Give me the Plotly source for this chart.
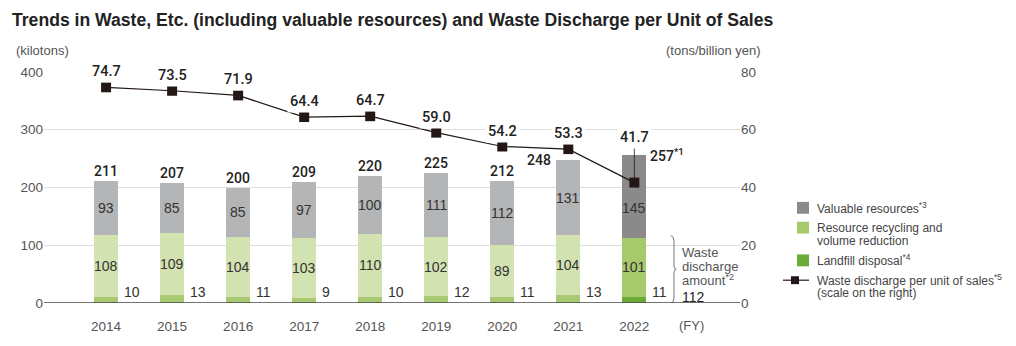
import plotly.graph_objects as go

# ---------------- data ----------------
years = ["2014", "2015", "2016", "2017", "2018", "2019", "2020", "2021", "2022"]
landfill = [10, 13, 11, 9, 10, 12, 11, 13, 11]
recycling = [108, 109, 104, 103, 110, 102, 89, 104, 101]
valuable = [93, 85, 85, 97, 100, 111, 112, 131, 145]
totals = [211, 207, 200, 209, 220, 225, 212, 248, 257]
per_sales = [74.7, 73.5, 71.9, 64.4, 64.7, 59.0, 54.2, 53.3, 41.7]
discharge_2022 = 112
left_ticks = [0, 100, 200, 300, 400]
right_ticks = [0, 20, 40, 60, 80]

# ---------------- geometry helpers ----------------
W, H = 1016, 346
L, R, T, B = 44, 740, 72, 305  # plot area in pixels


def px(x):
    return (x - L) / (R - L)


def py(y):
    return (B - y) / (B - T)


FONT = "Liberation Sans, Arial, Helvetica, sans-serif"
MED = dict(family="Roboto, Liberation Sans, Arial, sans-serif", weight=500)
xs = list(range(len(years)))
n = len(years)

c_val = ["#b4b5b6"] * (n - 1) + ["#8a8a8a"]
c_rec = ["#d3e2b1"] * (n - 1) + ["#a6c96b"]
c_land = ["#a9ca73"] * (n - 1) + ["#6cab38"]
LINE_C = "#231815"

fig = go.Figure()
bw = 0.36
fig.add_trace(go.Bar(x=xs, y=landfill, width=bw, marker=dict(color=c_land, line_width=0),
                     showlegend=False, hoverinfo="skip"))
fig.add_trace(go.Bar(x=xs, y=recycling, width=bw, marker=dict(color=c_rec, line_width=0),
                     showlegend=False, hoverinfo="skip"))
fig.add_trace(go.Bar(x=xs, y=valuable, width=bw, marker=dict(color=c_val, line_width=0),
                     showlegend=False, hoverinfo="skip"))
fig.add_trace(go.Scatter(x=xs, y=per_sales, yaxis="y2", mode="lines+markers",
                         line=dict(color=LINE_C, width=1.2),
                         marker=dict(symbol="square", size=10, color=LINE_C),
                         showlegend=False, hoverinfo="skip"))

ann = []
shapes = []

for i in xs:
    t = totals[i]
    if i == n - 2:
        ann.append(dict(x=i, y=t, xref="x", yref="y", text=f"{t}", showarrow=False,
                        xanchor="right", yanchor="middle", xshift=-15,
                        font=dict(size=14, color="#222", **MED)))
    elif i == n - 1:
        ann.append(dict(x=i, y=t, xref="x", yref="y",
                        text=f"{t}<sup>*1</sup>",
                        showarrow=False, xanchor="left", yanchor="middle", xshift=14,
                        font=dict(size=14, color="#222", **MED)))
    else:
        ann.append(dict(x=i, y=t, xref="x", yref="y", text=f"{t}", showarrow=False,
                        xanchor="center", yanchor="bottom", yshift=0,
                        font=dict(size=14, color="#222", **MED)))
    # valuable
    ann.append(dict(x=i, y=landfill[i] + recycling[i] + valuable[i] / 2, xref="x", yref="y",
                    text=str(valuable[i]), showarrow=False, yanchor="middle",
                    yshift=-12 if i == n - 1 else 0,
                    font=dict(size=14, color="#333")))
    # recycling
    ann.append(dict(x=i, y=landfill[i] + recycling[i] / 2, xref="x", yref="y",
                    text=str(recycling[i]), showarrow=False, yanchor="middle",
                    font=dict(size=14, color="#333")))
    # landfill
    ann.append(dict(x=i, y=0, xref="x", yref="y", text=str(landfill[i]), showarrow=False,
                    xanchor="left", yanchor="bottom", xshift=16, yshift=1,
                    font=dict(size=14, color="#333")))
    # line labels
    if i == n - 1:
        ann.append(dict(x=i, y=57.3, xref="x", yref="y2", text=f"{per_sales[i]:.1f}",
                        showarrow=False, yanchor="middle", bgcolor="white", borderpad=2,
                        font=dict(size=14.5, color="#222", **MED)))
    else:
        ann.append(dict(x=i, y=per_sales[i], xref="x", yref="y2", text=f"{per_sales[i]:.1f}",
                        showarrow=False, yanchor="bottom", yshift=4, bgcolor="white", borderpad=2,
                        font=dict(size=14.5, color="#222", **MED)))

# leader line for 2022 label
shapes.append(dict(type="line", xref="x", yref="y2", x0=n - 1, x1=n - 1, y0=per_sales[-1], y1=54,
                   line=dict(color=LINE_C, width=0.8), layer="above"))

# zero line
shapes.append(dict(type="line", xref="paper", yref="y", x0=0, x1=1, y0=0, y1=0,
                   line=dict(color="#444", width=1.3), layer="above"))

# bracket for waste discharge amount
bx = n - 1
shapes.append(dict(type="path", xref="x", yref="y",
                   path=(f"M {bx+0.55},117 Q {bx+0.6},115 {bx+0.6},108 L {bx+0.6},64 "
                         f"Q {bx+0.6},59 {bx+0.635},58.5 Q {bx+0.6},58 {bx+0.6},53 "
                         f"L {bx+0.6},8 Q {bx+0.6},1 {bx+0.55},0"),
                   line=dict(color="#666", width=0.9)))
for txt, yy in [("Waste", 254), ("discharge", 268.5), ("amount<sup>*2</sup>", 282)]:
    ann.append(dict(x=px(680), y=py(yy), xref="paper", yref="paper", text=txt, showarrow=False,
                    xanchor="left", yanchor="middle", font=dict(size=13, color="#555")))
ann.append(dict(x=px(680), y=py(299), xref="paper", yref="paper", text=str(discharge_2022),
                showarrow=False, xanchor="left", yanchor="middle", font=dict(size=14, color="#222")))

# axis unit labels / title
ann.append(dict(x=px(10), y=py(20), xref="paper", yref="paper",
                text="<b>Trends in Waste, Etc. (including valuable resources) and Waste Discharge per Unit of Sales</b>",
                showarrow=False, xanchor="left", yanchor="middle", font=dict(size=17.6, color="#222")))
ann.append(dict(x=px(14), y=py(50), xref="paper", yref="paper", text="(kilotons)", showarrow=False,
                xanchor="left", yanchor="middle", font=dict(size=13, color="#555")))
ann.append(dict(x=px(763), y=py(50), xref="paper", yref="paper", text="(tons/billion yen)",
                showarrow=False, xanchor="right", yanchor="middle", font=dict(size=13, color="#555")))
ann.append(dict(x=px(691), y=py(328), xref="paper", yref="paper", text="(FY)", showarrow=False,
                xanchor="center", yanchor="middle", font=dict(size=13, color="#555")))

# legend (manual)
leg_items = [
    ("#8b8b8b", ["Valuable resources<sup>*3</sup>"], 209),
    ("#a6c96b", ["Resource recycling and", "volume reduction"], 229),
    ("#6cab38", ["Landfill disposal<sup>*4</sup>"], 262),
]
for col, lines, yy in leg_items:
    shapes.append(dict(type="rect", xref="paper", yref="paper", x0=px(797), x1=px(809),
                       y0=py(yy + 6), y1=py(yy - 6), fillcolor=col, line_width=0))
    for k, txt in enumerate(lines):
        ann.append(dict(x=px(815), y=py(yy + 13 * k), xref="paper", yref="paper", text=txt,
                        showarrow=False, xanchor="left", yanchor="middle",
                        font=dict(size=12, color="#444")))
yy = 282
shapes.append(dict(type="line", xref="paper", yref="paper", x0=px(783), x1=px(809),
                   y0=py(yy), y1=py(yy), line=dict(color=LINE_C, width=1.2)))
shapes.append(dict(type="rect", xref="paper", yref="paper", x0=px(791), x1=px(799),
                   y0=py(yy + 4), y1=py(yy - 4), fillcolor=LINE_C, line_width=0))
for k, txt in enumerate(["Waste discharge per unit of sales<sup>*5</sup>",
                         "(scale on the right)"]):
    ann.append(dict(x=px(815), y=py(yy + 13 * k), xref="paper", yref="paper", text=txt,
                    showarrow=False, xanchor="left", yanchor="middle",
                    font=dict(size=12, color="#444")))

fig.update_layout(
    width=W, height=H,
    margin=dict(l=L, r=W - R, t=T, b=H - B, pad=0),
    paper_bgcolor="white", plot_bgcolor="white",
    barmode="stack", bargap=0,
    font=dict(family=FONT, color="#444"),
    showlegend=False,
    xaxis=dict(range=[-0.94, 9.6], tickvals=xs, ticktext=years, showgrid=False, zeroline=False,
               showline=False, ticks="outside", ticklen=11, tickcolor="rgba(0,0,0,0)",
               tickfont=dict(size=13.5, color="#555"), fixedrange=True),
    yaxis=dict(range=[0, 400], tickvals=left_ticks, showgrid=True, gridcolor="#dedede",
               gridwidth=1, zeroline=False, showline=False, ticks="",
               tickfont=dict(size=13.5, color="#555"), fixedrange=True),
    yaxis2=dict(range=[0, 80], tickvals=right_ticks, overlaying="y", side="right",
                showgrid=False, zeroline=False, showline=False, ticks="",
                tickfont=dict(size=13.5, color="#555"), fixedrange=True),
    annotations=ann,
    shapes=shapes,
)

fig.write_html("out.html")
